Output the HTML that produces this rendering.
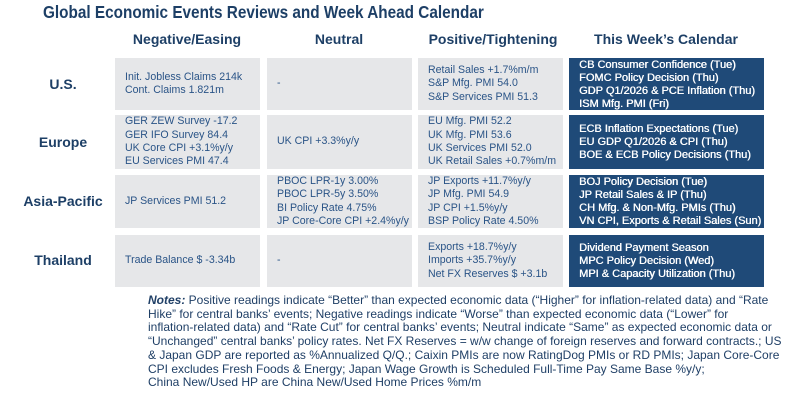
<!DOCTYPE html>
<html><head><meta charset="utf-8"><style>
*{margin:0;padding:0;box-sizing:border-box}
body{width:800px;height:400px;background:#fff;position:relative;overflow:hidden;font-family:"Liberation Sans",sans-serif}
.t{position:absolute;left:43px;top:2px;font-size:17.5px;font-weight:bold;color:#1d3f66;white-space:nowrap;transform:scaleX(0.875);transform-origin:left}
.h{position:absolute;top:31px;font-size:14px;font-weight:bold;color:#1d3f66;white-space:nowrap;transform:translateX(-50%)}
.r{position:absolute;font-size:14px;font-weight:bold;color:#1d3f66;white-space:nowrap;transform:translate(-50%,-50%);left:63px}
.c{position:absolute;background:#e6e7e9;color:#2a5487;font-size:10.6px;line-height:13.3px;padding-left:10px;display:flex;flex-direction:column;justify-content:center;white-space:nowrap;overflow:hidden}
.k{position:absolute;background:#1f4a78;color:#fff;font-size:11px;line-height:13px;padding-left:10px;display:flex;flex-direction:column;justify-content:center;white-space:nowrap;overflow:hidden;text-shadow:0.4px 0 0 #fff}
.n{position:absolute;left:148px;font-size:12px;color:#1f3f66;white-space:nowrap;line-height:13.7px;top:294px}
</style></head><body>
<div class="t">Global Economic Events Reviews and Week Ahead Calendar</div>
<div class="h" style="left:187px">Negative/Easing</div>
<div class="h" style="left:339px">Neutral</div>
<div class="h" style="left:493px">Positive/Tightening</div>
<div class="h" style="left:666px">This Week’s Calendar</div>

<div class="r" style="top:84px">U.S.</div>
<div class="r" style="top:142px">Europe</div>
<div class="r" style="top:201px">Asia-Pacific</div>
<div class="r" style="top:260px">Thailand</div>

<div class="c" style="left:115px;top:58px;width:145px;height:52px"><div>Init. Jobless Claims 214k</div><div>Cont. Claims 1.821m</div></div>
<div class="c" style="left:267px;top:58px;width:145px;height:52px"><div>-</div></div>
<div class="c" style="left:418px;top:58px;width:145px;height:52px"><div>Retail Sales +1.7%m/m</div><div>S&amp;P Mfg. PMI 54.0</div><div>S&amp;P Services PMI 51.3</div></div>
<div class="k" style="left:569px;top:58px;width:195px;height:52px;justify-content:flex-start;padding-top:1px"><div>CB Consumer Confidence (Tue)</div><div>FOMC Policy Decision (Thu)</div><div>GDP Q1/2026 &amp; PCE Inflation (Thu)</div><div>ISM Mfg. PMI (Fri)</div></div>

<div class="c" style="left:115px;top:115px;width:145px;height:54px"><div>GER ZEW Survey -17.2</div><div>GER IFO Survey 84.4</div><div>UK Core CPI +3.1%y/y</div><div>EU Services PMI 47.4</div></div>
<div class="c" style="left:267px;top:115px;width:145px;height:54px"><div>UK CPI +3.3%y/y</div></div>
<div class="c" style="left:418px;top:115px;width:145px;height:54px"><div>EU Mfg. PMI 52.2</div><div>UK Mfg. PMI 53.6</div><div>UK Services PMI 52.0</div><div>UK Retail Sales +0.7%m/m</div></div>
<div class="k" style="left:569px;top:115px;width:195px;height:54px"><div>ECB Inflation Expectations (Tue)</div><div>EU GDP Q1/2026 &amp; CPI (Thu)</div><div>BOE &amp; ECB Policy Decisions (Thu)</div></div>

<div class="c" style="left:115px;top:175px;width:145px;height:53px"><div>JP Services PMI 51.2</div></div>
<div class="c" style="left:267px;top:175px;width:145px;height:53px"><div>PBOC LPR-1y 3.00%</div><div>PBOC LPR-5y 3.50%</div><div>BI Policy Rate 4.75%</div><div>JP Core-Core CPI +2.4%y/y</div></div>
<div class="c" style="left:418px;top:175px;width:145px;height:53px"><div>JP Exports +11.7%y/y</div><div>JP Mfg. PMI 54.9</div><div>JP CPI +1.5%y/y</div><div>BSP Policy Rate 4.50%</div></div>
<div class="k" style="left:569px;top:175px;width:195px;height:53px"><div>BOJ Policy Decision (Tue)</div><div>JP Retail Sales &amp; IP (Thu)</div><div>CH Mfg. &amp; Non-Mfg. PMIs (Thu)</div><div>VN CPI, Exports &amp; Retail Sales (Sun)</div></div>

<div class="c" style="left:115px;top:235px;width:145px;height:52px"><div>Trade Balance $ -3.34b</div></div>
<div class="c" style="left:267px;top:235px;width:145px;height:52px"><div>-</div></div>
<div class="c" style="left:418px;top:235px;width:145px;height:52px"><div>Exports +18.7%y/y</div><div>Imports +35.7%y/y</div><div>Net FX Reserves $ +3.1b</div></div>
<div class="k" style="left:569px;top:235px;width:195px;height:52px"><div>Dividend Payment Season</div><div>MPC Policy Decision (Wed)</div><div>MPI &amp; Capacity Utilization (Thu)</div></div>

<div class="n">
<div><b><i>Notes:</i></b> Positive readings indicate “Better” than expected economic data (“Higher” for inflation-related data) and “Rate</div>
<div>Hike” for central banks’ events; Negative readings indicate “Worse” than expected economic data (“Lower” for</div>
<div>inflation-related data) and “Rate Cut” for central banks’ events; Neutral indicate “Same” as expected economic data or</div>
<div>“Unchanged” central banks’ policy rates. Net FX Reserves = w/w change of foreign reserves and forward contracts.; US</div>
<div>&amp; Japan GDP are reported as %Annualized Q/Q.; Caixin PMIs are now RatingDog PMIs or RD PMIs; Japan Core-Core</div>
<div>CPI excludes Fresh Foods &amp; Energy; Japan Wage Growth is Scheduled Full-Time Pay Same Base %y/y;</div>
<div>China New/Used HP are China New/Used Home Prices %m/m</div>
</div>
</body></html>
